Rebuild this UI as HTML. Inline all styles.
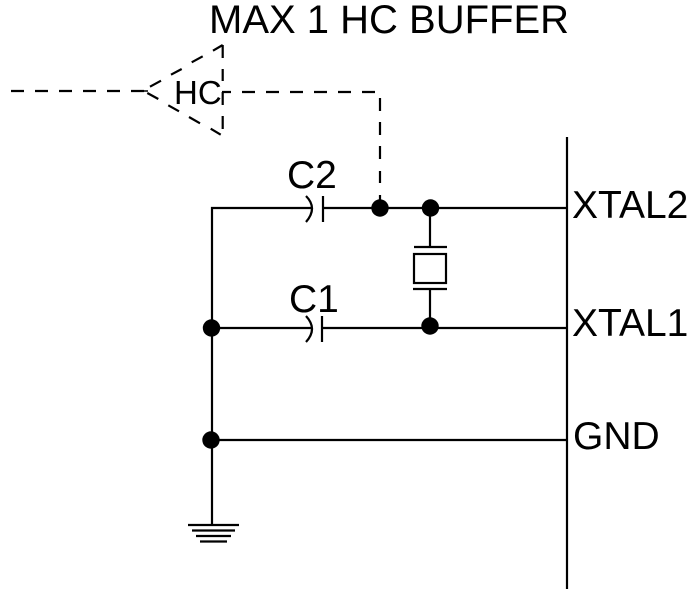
<!DOCTYPE html>
<html>
<head>
<meta charset="utf-8">
<style>
html,body{margin:0;padding:0;background:#fff;width:693px;height:594px;overflow:hidden}
svg{display:block}
text{font-family:"Liberation Sans",Arial,sans-serif;font-size:39px;fill:#000}
</style>
</head>
<body>
<svg width="693" height="594" viewBox="0 0 693 594" xmlns="http://www.w3.org/2000/svg">
<g fill="none" stroke="#000" stroke-width="2.200">
<!-- dashed input -->
<path d="M11 91H24M35 91H48M59 91H72M83 91H96M107 91H120M131 91H144"/>
<path d="M144 91H148" stroke-width="1.500"/>
<!-- dashed triangle -->
<path d="M222.700 45L213 50.700M202.700 56.300L191.700 62.300M181.700 69L171 74.700M161 80.700L150 86.700"/>
<path d="M147.300 93L158.300 99M168.300 105.300L179 111.300M189 117L200 123.300M210.700 128.700L220.700 134.700"/>
<path d="M222.700 45V58M222.700 69V81M222.700 92V105M222.700 116V129"/>
<!-- dashed output -->
<path d="M222 92H231M242 92H255M266 92H279M290 92H303M314 92H327M338 92H351M362 92H375"/>
<path d="M380 98V111M380 122V135M380 146V159M380 171V183M380 195V203"/>
<!-- wires -->
<path d="M567 137V589"/>
<path d="M212 525V208H311"/>
<path d="M323 208H566"/>
<path d="M212 328H311"/>
<path d="M322 328H566"/>
<path d="M212 440H566"/>
<path d="M430 208V247"/>
<path d="M430 289V328"/>
<!-- crystal -->
<path d="M414 247H447"/>
<path d="M413 289H447"/>
<rect x="414" y="254" width="32" height="29"/>
<!-- capacitors -->
<path d="M323 196V222"/>
<path d="M322 316V342"/>
<path d="M306 196Q318 208 306 222"/>
<path d="M306 316Q318 329 306 342"/>
<!-- ground -->
<path d="M188 525H239"/>
<path d="M192 530.500H235"/>
<path d="M196 536H231"/>
<path d="M200 541.500H227"/>
</g>
<g fill="#000">
<circle cx="380" cy="208" r="8.700"/>
<circle cx="430.500" cy="208" r="8.700"/>
<circle cx="430" cy="326" r="8.700"/>
<circle cx="211.500" cy="328" r="8.700"/>
<circle cx="211" cy="440" r="8.700"/>
</g>
<text x="209" y="33" style="font-size:40px">MAX 1 HC BUFFER</text>
<text x="174" y="104" style="font-size:33px">HC</text>
<text x="287" y="188">C2</text>
<text x="289" y="312">C1</text>
<text x="572" y="218">XTAL2</text>
<text x="572" y="336">XTAL1</text>
<text x="573" y="449">GND</text>
</svg>
</body>
</html>
